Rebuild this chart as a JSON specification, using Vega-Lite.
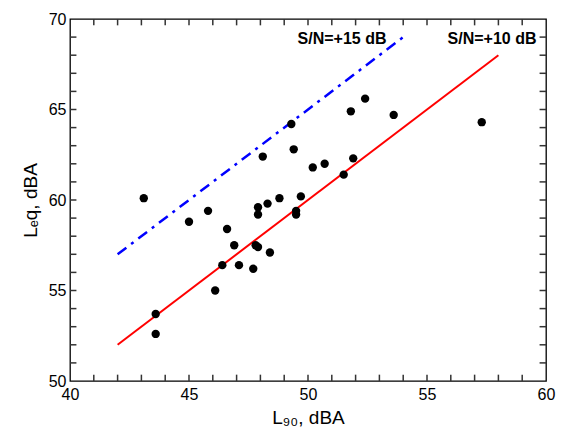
{
  "$schema": "https://vega.github.io/schema/vega-lite/v6.json",
  "width": 476,
  "height": 362,
  "autosize": {"type": "none"},
  "padding": {"left": 70, "top": 19, "right": 20, "bottom": 62},
  "background": "white",
  "config": {
    "view": {"stroke": "black", "strokeWidth": 1.3},
    "font": "Liberation Sans",
    "axis": {
      "grid": false,
      "domain": false,
      "ticks": false,
      "labelFont": "Liberation Sans",
      "labelFontSize": 16,
      "labelColor": "black",
      "titleFont": "Liberation Sans",
      "titleFontSize": 19,
      "titleFontWeight": "normal",
      "titleColor": "black"
    }
  },
  "datasets": {
    "points": [
      {"L90": 43.1, "Leq": 60.1},
      {"L90": 43.6, "Leq": 53.7},
      {"L90": 43.6, "Leq": 52.6},
      {"L90": 45.0, "Leq": 58.8},
      {"L90": 45.8, "Leq": 59.4},
      {"L90": 46.1, "Leq": 55.0},
      {"L90": 46.4, "Leq": 56.4},
      {"L90": 46.6, "Leq": 58.4},
      {"L90": 46.9, "Leq": 57.5},
      {"L90": 47.1, "Leq": 56.4},
      {"L90": 47.7, "Leq": 56.2},
      {"L90": 47.8, "Leq": 57.5},
      {"L90": 47.9, "Leq": 57.4},
      {"L90": 47.9, "Leq": 59.6},
      {"L90": 47.9, "Leq": 59.2},
      {"L90": 48.1, "Leq": 62.4},
      {"L90": 48.3, "Leq": 59.8},
      {"L90": 48.4, "Leq": 57.1},
      {"L90": 48.8, "Leq": 60.1},
      {"L90": 49.3, "Leq": 64.2},
      {"L90": 49.4, "Leq": 62.8},
      {"L90": 49.5, "Leq": 59.4},
      {"L90": 49.5, "Leq": 59.2},
      {"L90": 49.7, "Leq": 60.2},
      {"L90": 50.2, "Leq": 61.8},
      {"L90": 50.7, "Leq": 62.0},
      {"L90": 51.5, "Leq": 61.4},
      {"L90": 51.8, "Leq": 64.9},
      {"L90": 51.9, "Leq": 62.3},
      {"L90": 52.4, "Leq": 65.6},
      {"L90": 53.6, "Leq": 64.7},
      {"L90": 57.3, "Leq": 64.3}
    ],
    "lines": [
      {"line": "S/N=+10 dB", "L90": 42, "Leq": 52},
      {"line": "S/N=+10 dB", "L90": 58, "Leq": 68},
      {"line": "S/N=+15 dB", "L90": 42, "Leq": 57},
      {"line": "S/N=+15 dB", "L90": 54, "Leq": 69}
    ],
    "labels": [
      {"text": "S/N=+15 dB", "L90": 53.3, "Leq": 68.9},
      {"text": "S/N=+10 dB", "L90": 59.6, "Leq": 68.9}
    ],
    "xticks": [
      {"v": 41}, {"v": 42}, {"v": 43}, {"v": 44}, {"v": 45}, {"v": 46}, {"v": 47}, {"v": 48}, {"v": 49}, {"v": 50},
      {"v": 51}, {"v": 52}, {"v": 53}, {"v": 54}, {"v": 55}, {"v": 56}, {"v": 57}, {"v": 58}, {"v": 59}
    ],
    "yticks": [
      {"v": 51}, {"v": 52}, {"v": 53}, {"v": 54}, {"v": 55}, {"v": 56}, {"v": 57}, {"v": 58}, {"v": 59}, {"v": 60},
      {"v": 61}, {"v": 62}, {"v": 63}, {"v": 64}, {"v": 65}, {"v": 66}, {"v": 67}, {"v": 68}, {"v": 69}
    ]
  },
  "layer": [
    {
      "data": {"name": "lines"},
      "transform": [{"filter": "datum.line === 'S/N=+10 dB'"}],
      "mark": {"type": "line", "color": "#ff0000", "strokeWidth": 2},
      "encoding": {
        "x": {"field": "L90", "type": "quantitative", "scale": {"domain": [40, 60], "nice": false, "zero": false},
          "axis": {"title": "L₉₀, dBA", "values": [40, 45, 50, 55, 60], "labelPadding": 5, "titlePadding": 6, "labelFlush": false, "labelOverlap": false}},
        "y": {"field": "Leq", "type": "quantitative", "scale": {"domain": [50, 70], "nice": false, "zero": false},
          "axis": {"title": "Lₑq, dBA", "values": [50, 55, 60, 65, 70], "labelPadding": 4, "titlePadding": 8, "labelFlush": false, "labelOverlap": false}}
      }
    },
    {
      "data": {"name": "lines"},
      "transform": [{"filter": "datum.line === 'S/N=+15 dB'"}],
      "mark": {"type": "line", "color": "#0000ff", "strokeWidth": 2.5, "strokeDash": [11, 6, 3, 6]},
      "encoding": {
        "x": {"field": "L90", "type": "quantitative"},
        "y": {"field": "Leq", "type": "quantitative"}
      }
    },
    {
      "data": {"name": "xticks"},
      "mark": {"type": "rule", "color": "#333333", "strokeWidth": 1.5},
      "encoding": {"x": {"field": "v", "type": "quantitative"}, "y": {"datum": 50}, "y2": {"datum": 50.35}}
    },
    {
      "data": {"name": "xticks"},
      "mark": {"type": "rule", "color": "#333333", "strokeWidth": 1.5},
      "encoding": {"x": {"field": "v", "type": "quantitative"}, "y": {"datum": 70}, "y2": {"datum": 69.65}}
    },
    {
      "data": {"name": "yticks"},
      "mark": {"type": "rule", "color": "#333333", "strokeWidth": 1.5},
      "encoding": {"y": {"field": "v", "type": "quantitative"}, "x": {"datum": 40}, "x2": {"datum": 40.27}}
    },
    {
      "data": {"name": "yticks"},
      "mark": {"type": "rule", "color": "#333333", "strokeWidth": 1.5},
      "encoding": {"y": {"field": "v", "type": "quantitative"}, "x": {"datum": 60}, "x2": {"datum": 59.73}}
    },
    {
      "data": {"name": "points"},
      "mark": {"type": "circle", "color": "black", "opacity": 1, "size": 70},
      "encoding": {
        "x": {"field": "L90", "type": "quantitative"},
        "y": {"field": "Leq", "type": "quantitative"}
      }
    },
    {
      "data": {"name": "labels"},
      "mark": {"type": "text", "align": "right", "baseline": "middle", "fontWeight": "bold", "fontSize": 16, "color": "black", "font": "Liberation Sans"},
      "encoding": {
        "x": {"field": "L90", "type": "quantitative"},
        "y": {"field": "Leq", "type": "quantitative"},
        "text": {"field": "text"}
      }
    }
  ]
}
